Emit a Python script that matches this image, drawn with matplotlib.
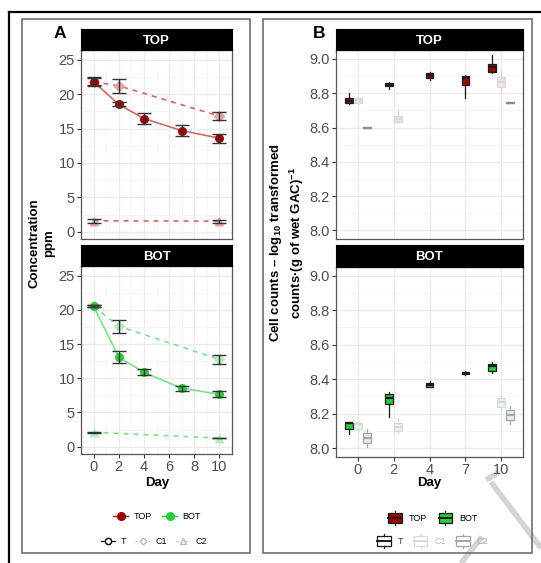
import numpy as np
import matplotlib
matplotlib.use("Agg")
import matplotlib.pyplot as plt
from matplotlib.lines import Line2D
from matplotlib.patches import Rectangle
from matplotlib.legend_handler import HandlerBase

plt.rcParams["font.family"] = ["Liberation Sans", "DejaVu Sans"]
plt.rcParams["mathtext.fontset"] = "custom"
plt.rcParams["mathtext.rm"] = "Liberation Sans"
plt.rcParams["mathtext.bf"] = "Liberation Sans:bold"

W, H = 541, 563

# ---- panel A: concentration (ppm), mean and error half-width
days = [0, 2, 4, 7, 10]
c1_days = [0, 2, 10]
c2_days = [0, 10]

top_T = [21.8, 18.5, 16.45, 14.7, 13.6]
top_T_err = [0.65, 0.3, 0.8, 0.8, 0.65]
top_C1 = [21.8, 21.2, 16.8]
top_C1_err = [0.5, 1.0, 0.55]
top_C2 = [1.6, 1.55]
top_C2_err = [0.3, 0.2]

bot_T = [20.5, 13.1, 10.85, 8.55, 7.65]
bot_T_err = [0.15, 0.85, 0.45, 0.35, 0.45]
bot_C1 = [20.5, 17.6, 12.75]
bot_C1_err = [0.15, 0.95, 0.6]
bot_C2 = [2.1, 1.25]
bot_C2_err = [0.1, 0.05]

# ---- panel B: cell counts, box stats (whisker low, q1, median, q3, whisker high)
day_labels = ["0", "2", "4", "7", "10"]
box_top_T = {"0": (8.737, 8.742, 8.757, 8.770, 8.800),
             "2": (8.825, 8.840, 8.850, 8.860, 8.864),
             "4": (8.877, 8.890, 8.905, 8.916, 8.926),
             "7": (8.770, 8.846, 8.890, 8.900, 8.907),
             "10": (8.920, 8.926, 8.950, 8.970, 9.025)}
box_top_C1 = {"0": (8.740, 8.743, 8.760, 8.775, 8.780),
              "2": (8.626, 8.630, 8.650, 8.670, 8.700),
              "10": (8.800, 8.837, 8.866, 8.895, 8.930)}
box_top_C2 = {"0": (8.598, 8.599, 8.600, 8.601, 8.602),
              "10": (8.743, 8.744, 8.745, 8.746, 8.747)}
box_bot_T = {"0": (8.083, 8.112, 8.144, 8.148, 8.154),
             "2": (8.183, 8.254, 8.290, 8.312, 8.323),
             "4": (8.352, 8.356, 8.365, 8.375, 8.387),
             "7": (8.425, 8.427, 8.435, 8.442, 8.447),
             "10": (8.438, 8.448, 8.475, 8.490, 8.500)}
box_bot_C1 = {"0": (8.090, 8.110, 8.142, 8.148, 8.150),
              "2": (8.087, 8.100, 8.125, 8.148, 8.177),
              "10": (8.217, 8.240, 8.267, 8.290, 8.300)}
box_bot_C2 = {"0": (8.006, 8.030, 8.058, 8.087, 8.110),
              "10": (8.140, 8.163, 8.194, 8.221, 8.246)}

RED = "#9B0000"
GREEN = "#2DC940"


def rect(x0, y0, x1, y1):
    return [x0 / W, 1 - y1 / H, (x1 - x0) / W, (y1 - y0) / H]


def style_axes(ax):
    for s in ax.spines.values():
        s.set_color("#555555")
        s.set_linewidth(0.9)
    ax.tick_params(direction="out", length=3, width=0.8, color="#333333",
                   labelcolor="#4D4D4D", labelsize=10.5, pad=1.5)
    ax.tick_params(which="minor", length=0)
    ax.grid(True, which="major", color="#EBEBEB", lw=0.9)
    ax.grid(True, which="minor", color="#F3F3F3", lw=0.5)
    ax.set_axisbelow(True)


def add_strip(fig, r, label):
    sax = fig.add_axes(r)
    sax.set_facecolor("black")
    sax.set_xticks([])
    sax.set_yticks([])
    sax.text(0.5, 0.45, label, color="white", fontsize=9.5, fontweight="bold",
             ha="center", va="center", transform=sax.transAxes)


def draw_conc(ax, T, Terr, C1, C1err, C2, C2err, col, light, pale):
    ax.plot(days, T, color=light, lw=1.2, zorder=2)
    ax.plot(c1_days, C1, color=light, lw=1.2, ls=(0, (3, 3)), zorder=2)
    ax.plot(c2_days, C2, color=light, lw=1.2, ls=(0, (3, 3)), zorder=2)
    ax.plot(c1_days, C1, "D", color=pale, ms=6, mec="none", zorder=3)
    ax.plot(c2_days, C2, "^", color=pale, ms=7, mec="none", zorder=3)
    ax.plot(days, T, "o", color=col, ms=6.5, mec="none", zorder=4)
    for x, y, e in [(days, T, Terr), (c1_days, C1, C1err), (c2_days, C2, C2err)]:
        ax.errorbar(x, y, yerr=e, fmt="none", ecolor="#333333", elinewidth=1,
                    capsize=5, capthick=1, zorder=5)
    ax.set_xlim(-1.0, 11.0)
    ax.set_ylim(-1.0, 26.4)
    ax.set_xticks([0, 2, 4, 6, 8, 10])
    ax.set_xticks([1, 3, 5, 7, 9], minor=True)
    ax.set_yticks([0, 5, 10, 15, 20, 25])
    ax.set_yticks([2.5, 7.5, 12.5, 17.5, 22.5], minor=True)
    style_axes(ax)


def draw_boxes(ax, groups, fills, edges):
    for i, d in enumerate(day_labels):
        present = [k for k, g in enumerate(groups) if d in g]
        n = len(present)
        for j, k in enumerate(present):
            pos = i + 1 + (j - (n - 1) / 2) * 0.25
            lo, q1, med, q3, hi = groups[k][d]
            st = dict(whislo=lo, q1=q1, med=med, q3=q3, whishi=hi, fliers=[])
            ax.bxp([st], positions=[pos], widths=0.22, showfliers=False,
                   showcaps=False, patch_artist=True,
                   boxprops=dict(facecolor=fills[k], edgecolor=edges[k], lw=0.9),
                   medianprops=dict(color=edges[k], lw=1.6),
                   whiskerprops=dict(color=edges[k], lw=0.9),
                   manage_ticks=False)
    ax.set_xlim(0.4, 5.6)
    ax.set_ylim(7.95, 9.052)
    ax.set_xticks(range(1, 6))
    ax.set_xticklabels(day_labels)
    ax.set_yticks([8.0, 8.2, 8.4, 8.6, 8.8, 9.0])
    ax.set_yticks([8.1, 8.3, 8.5, 8.7, 8.9], minor=True)
    style_axes(ax)


class BoxKey(HandlerBase):
    def create_artists(self, legend, orig, xd, yd, width, height, fontsize, trans):
        fc = orig.get_facecolor()
        ec = orig.get_edgecolor()
        bw = width * 0.85
        x0 = xd + (width - bw) / 2
        r = Rectangle((x0, -yd + height * 0.05), bw, height * 0.9, facecolor=fc,
                      edgecolor=ec, lw=0.9, transform=trans)
        m = Line2D([x0, x0 + bw], [-yd + height / 2] * 2, color=ec, lw=1.4,
                   transform=trans)
        w1 = Line2D([xd + width / 2] * 2, [-yd + height * 0.95, -yd + height * 1.2],
                    color=ec, lw=0.9, transform=trans)
        w2 = Line2D([xd + width / 2] * 2, [-yd - height * 0.2, -yd + height * 0.05],
                    color=ec, lw=0.9, transform=trans)
        return [r, m, w1, w2]


fig = plt.figure(figsize=(W / 100, H / 100), dpi=100)

# outer frame and panel boxes
fig.add_artist(Line2D([9 / W, 1], [1 - 12 / H] * 2, color="black", lw=1.6))
fig.add_artist(Line2D([9 / W] * 2, [1 - 12 / H, 0], color="black", lw=1.6))
for x0, x1 in [(22, 250), (263, 532)]:
    fig.add_artist(Rectangle((x0 / W, 1 - 553 / H), (x1 - x0) / W, (553 - 19) / H,
                             transform=fig.transFigure, fill=False,
                             edgecolor="#707070", lw=1.2))

# panel A
axA1 = fig.add_axes(rect(81, 50, 232, 238.7))
axA2 = fig.add_axes(rect(81, 266, 232, 453.5))
draw_conc(axA1, top_T, top_T_err, top_C1, top_C1_err, top_C2, top_C2_err,
          RED, "#D06868", "#E8A4A4")
draw_conc(axA2, bot_T, bot_T_err, bot_C1, bot_C1_err, bot_C2, bot_C2_err,
          GREEN, "#7FE08E", "#B5EDBF")
axA1.tick_params(axis="x", length=0, labelbottom=False)
add_strip(fig, rect(81, 29, 232, 50), "TOP")
add_strip(fig, rect(81, 245, 232, 266), "BOT")

# panel B
axB1 = fig.add_axes(rect(336, 50, 523, 239))
axB2 = fig.add_axes(rect(336, 266.7, 523, 456.7))
draw_boxes(axB1, [box_top_T, box_top_C1, box_top_C2],
           [RED, "#F3E2E2", "#F1E6E6"], ["#1A1A1A", "#D9D9D9", "#8C8C8C"])
draw_boxes(axB2, [box_bot_T, box_bot_C1, box_bot_C2],
           [GREEN, "#E6F6E8", "#E2F1E4"], ["#1A1A1A", "#D9D9D9", "#A6A6A6"])
axB1.tick_params(axis="x", length=0, labelbottom=False)
add_strip(fig, rect(336, 29, 523, 50), "TOP")
add_strip(fig, rect(336, 245, 523, 266.7), "BOT")

# titles and labels
fig.text(60 / W, 1 - 33 / H, "A", fontsize=12.5, fontweight="bold", ha="center", va="center")
fig.text(319 / W, 1 - 33 / H, "B", fontsize=12.5, fontweight="bold", ha="center", va="center")
fig.text(42 / W, 1 - 243 / H, "Concentration\nppm", rotation=90, fontsize=9.5,
         fontweight="bold", ha="center", va="center", multialignment="center",
         linespacing=1.3)
fig.text(287 / W, 1 - 243 / H,
         "Cell counts \u2013 log$_{\\mathbf{10}}$ transformed\n"
         "counts\u00b7(g of wet GAC)$^{\\mathbf{-1}}$",
         rotation=90, fontsize=9.5, fontweight="bold", ha="center", va="center",
         multialignment="center", linespacing=1.25)
fig.text(157 / W, 1 - 483 / H, "Day", fontsize=9.5, fontweight="bold", ha="center", va="center")
fig.text(429 / W, 1 - 483 / H, "Day", fontsize=9.5, fontweight="bold", ha="center", va="center")

# legends panel A
loc_handles = [Line2D([], [], color=RED, marker="o", ms=5.5, lw=1),
               Line2D([], [], color=GREEN, marker="o", ms=5.5, lw=1)]
fig.legend(loc_handles, ["TOP", "BOT"], ncol=2, frameon=False, fontsize=6.5,
           handlelength=1.6, columnspacing=1.2, handletextpad=0.6,
           loc="center", bbox_to_anchor=(157 / W, 1 - 516.5 / H))
trt_handles = [Line2D([], [], color="black", marker="o", mfc="white", ms=4.5, lw=0.8),
               Line2D([], [], color="#BBBBBB", marker="D", mfc="white", ms=3.5, lw=0.8, ls=(0, (2, 2))),
               Line2D([], [], color="#BBBBBB", marker="^", mfc="white", ms=4.5, lw=0.8, ls=(0, (2, 2)))]
fig.legend(trt_handles, ["T", "C1", "C2"], ncol=3, frameon=False, fontsize=6.5,
           handlelength=1.6, columnspacing=1.0, handletextpad=0.6,
           loc="center", bbox_to_anchor=(154 / W, 1 - 542 / H))

# legends panel B
boxloc = [Rectangle((0, 0), 1, 1, facecolor=RED, edgecolor="#1A1A1A"),
          Rectangle((0, 0), 1, 1, facecolor=GREEN, edgecolor="#1A1A1A")]
fig.legend(boxloc, ["TOP", "BOT"], ncol=2, frameon=False, fontsize=6.5,
           handler_map={Rectangle: BoxKey()}, handlelength=1.8, handleheight=1.4,
           columnspacing=1.2, handletextpad=0.6,
           loc="center", bbox_to_anchor=(432 / W, 1 - 518 / H))
boxtrt = [Rectangle((0, 0), 1, 1, facecolor="white", edgecolor="#1A1A1A"),
          Rectangle((0, 0), 1, 1, facecolor="white", edgecolor="#D9D9D9"),
          Rectangle((0, 0), 1, 1, facecolor="white", edgecolor="#A6A6A6")]
leg = fig.legend(boxtrt, ["T", "C1", "C2"], ncol=3, frameon=False, fontsize=6.5,
                 handler_map={Rectangle: BoxKey()}, handlelength=1.8, handleheight=1.4,
                 columnspacing=1.0, handletextpad=0.6,
                 loc="center", bbox_to_anchor=(432 / W, 1 - 541 / H))
for t, c in zip(leg.get_texts(), ["#333333", "#BBBBBB", "#AAAAAA"]):
    t.set_color(c)

# faint watermark strokes in the lower right corner
for (xa, ya), (xb, yb) in [((491, 482), (541, 548)), ((461, 563), (482, 537)),
                            ((486, 480), (499, 472))]:
    fig.add_artist(Line2D([xa / W, xb / W], [1 - ya / H, 1 - yb / H],
                          color="#D4D4D4", lw=4, solid_capstyle="butt", zorder=0))

fig.savefig("out.png", dpi=100)
